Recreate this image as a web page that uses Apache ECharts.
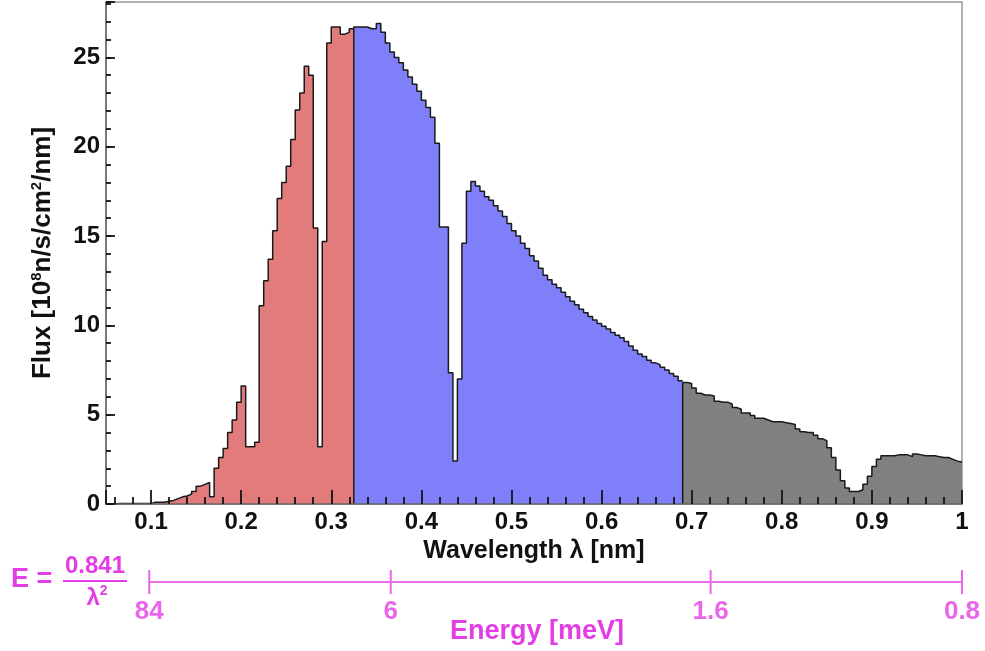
<!DOCTYPE html>
<html lang="en">
<head>
<meta charset="utf-8"/>
<title>Flux vs wavelength</title>
<script src="https://cdn.jsdelivr.net/npm/echarts@6/dist/echarts.min.js"></script>
<style>
    html, body { margin: 0; background: #fff; }
    #chart { width: 985px; height: 651px; }
</style>
</head>
<body>
<div id="chart"></div>
<script>
    // histogram binning (nm)
    const lambdaMin = 0.05;
    const lambdaMax = 1.0;
    const binWidth = 0.005;

    // flux per bin [1e8 n/s/cm2/nm]
    const flux = [
        0, 0, 0.03, 0.03, 0.03, 0.03, 0.03, 0.03, 0.03, 0.03,
        0.1, 0.1, 0.1, 0.15, 0.2, 0.3, 0.4, 0.45, 0.55, 0.7,
        1.0, 1.1, 1.2, 0.4, 2.0, 2.6, 3.1, 4.0, 4.7, 5.7,
        6.6, 3.2, 3.2, 3.45, 11.1, 12.5, 13.7, 15.3, 17.1, 18.0,
        18.9, 20.4, 22.05, 23.0, 24.5, 24.0, 15.45, 3.2, 14.7, 25.8,
        26.7, 26.7, 26.3, 26.4, 26.6,
        26.7, 26.7, 26.7, 26.6, 26.6, 26.9, 26.4, 25.8, 25.3, 25.0,
        24.7, 24.3, 23.9, 23.5, 23.1, 22.6, 22.2, 21.65, 20.2, 15.5,
        15.5, 7.35, 2.4, 7.0, 14.6, 17.5, 18.05, 17.8, 17.5, 17.2,
        17.0, 16.7, 16.4, 16.1, 15.7, 15.3, 15.0, 14.6, 14.3, 13.9,
        13.6, 13.2, 12.8, 12.55, 12.3, 12.1, 11.85, 11.6, 11.35, 11.15,
        10.9, 10.7, 10.5, 10.3, 10.1, 9.95, 9.8, 9.6, 9.45, 9.3,
        9.1, 8.85, 8.6, 8.4, 8.25, 8.05, 7.9, 7.8, 7.65, 7.5,
        7.3, 7.15, 6.9,
        6.8, 6.75, 6.5, 6.2, 6.1, 6.1, 6.05, 5.75, 5.7, 5.7,
        5.6, 5.4, 5.3, 5.1, 5.1, 4.95, 4.8, 4.8, 4.7, 4.6,
        4.6, 4.6, 4.55, 4.5, 4.45, 4.2, 4.05, 4.0, 4.0, 3.85,
        3.65, 3.55, 3.15, 2.6, 1.9, 1.3, 0.9, 0.7, 0.7, 0.8,
        1.1, 1.55, 2.1, 2.5, 2.7, 2.7, 2.7, 2.75, 2.75, 2.75,
        2.65, 2.8, 2.75, 2.7, 2.7, 2.7, 2.65, 2.6, 2.6, 2.5,
        2.4, 2.35
    ];

    // coloured wavelength bands
    const regionStart = [0.05, 0.325, 0.69];
    const regionColor = ['#e27b7b', '#7f7ffa', '#808080'];

    // energy scale E = 0.841 / lambda^2, tick labels and where they sit on the lambda axis
    const energyLabels = ['84', '6', '1.6', '0.8'];
    const energyAt = [0.098, 0.366, 0.721, 1.0];

    const MAGENTA = '#e33ee3';
    const FONT = '"Liberation Sans", Arial, Helvetica, sans-serif';
    const TICK = {color: '#151515', width: 1.8};

    function edge(i) {
        return +(lambdaMin + i * binWidth).toFixed(4);
    }

    function regionData(k) {
        const i0 = Math.round((regionStart[k] - lambdaMin) / binWidth);
        const i1 = k + 1 < regionStart.length
            ? Math.round((regionStart[k + 1] - lambdaMin) / binWidth)
            : flux.length;
        const pts = [[edge(i0), 0]];
        for (let i = i0; i < i1; i++) pts.push([edge(i), flux[i]]);
        pts.push([edge(i1), flux[i1 - 1]]);
        return pts;
    }

    const histSeries = regionStart.map((s, k) => ({
        type: 'line',
        step: 'end',
        xAxisIndex: 0,
        yAxisIndex: 0,
        symbol: 'none',
        data: regionData(k),
        lineStyle: {color: '#1a1a1a', width: 1.5},
        areaStyle: {color: regionColor[k], opacity: 1},
        z: 2
    }));

    const tickLabel = {fontFamily: FONT, fontWeight: 'bold', fontSize: 24, color: '#111'};

    let chart = echarts.init(document.getElementById('chart'), null, {renderer: 'canvas'});
    chart.setOption({
        animation: false,
        backgroundColor: '#fff',
        grid: [
            {left: 106, right: 23, top: 2, bottom: 147, show: true, borderColor: '#999', borderWidth: 1.5,
                containLabel: false, outerBoundsMode: 'none'},
            {left: 106, right: 23, top: 570, height: 24, containLabel: false, outerBoundsMode: 'none'}
        ],
        xAxis: [
            {
                type: 'value', gridIndex: 0, position: 'bottom', min: lambdaMin, max: lambdaMax,
                splitNumber: 10, z: 5,
                axisLine: {lineStyle: {color: '#666', width: 1.5}},
                axisTick: {inside: true, length: 14, lineStyle: TICK},
                minorTick: {show: true, splitNumber: 5, length: 7, lineStyle: TICK},
                axisLabel: Object.assign({
                    margin: 6,
                    formatter: v => Math.abs(v * 10 - Math.round(v * 10)) < 1e-6 ? String(+v.toFixed(1)) : ''
                }, tickLabel),
                splitLine: {show: false},
                name: 'Wavelength \u03bb [nm]', nameLocation: 'middle', nameGap: 32,
                nameTextStyle: {fontFamily: FONT, fontWeight: 'bold', fontSize: 25, color: '#111'}
            },
            {type: 'value', gridIndex: 1, min: lambdaMin, max: lambdaMax, show: false}
        ],
        yAxis: [
            {
                type: 'value', gridIndex: 0, position: 'left', min: 0, max: 28.1, interval: 5, z: 5,
                axisLine: {show: true, lineStyle: {color: '#666', width: 1.5}},
                axisTick: {show: true, inside: true, length: 9, lineStyle: TICK},
                axisLabel: Object.assign({
                    margin: 6,
                    formatter: v => v % 5 === 0 ? String(v) : ''
                }, tickLabel),
                splitLine: {show: false},
                name: '{t|Flux [10}{s|8}{t|n/s/cm}{s|2}{t|/nm]}',
                nameLocation: 'middle', nameGap: 49,
                nameTextStyle: {
                    rich: {
                        t: {fontFamily: FONT, fontWeight: 'bold', fontSize: 26, color: '#111', lineHeight: 28},
                        s: {fontFamily: FONT, fontWeight: 'bold', fontSize: 15, color: '#111', padding: [0, 0, 13, 0]}
                    }
                }
            },
            {   // minor ticks, one per unit
                type: 'value', gridIndex: 0, position: 'left', min: 0, max: 28.1, interval: 1, z: 5,
                axisLine: {show: false},
                axisTick: {show: true, inside: true, length: 5, lineStyle: TICK},
                axisLabel: {show: false},
                splitLine: {show: false}
            },
            {type: 'value', gridIndex: 1, min: -1, max: 1, show: false}
        ],
        series: histSeries.concat([
            {
                type: 'line', xAxisIndex: 1, yAxisIndex: 2, symbol: 'none', silent: true,
                data: [[energyAt[0], 0], [energyAt[energyAt.length - 1], 0]],
                lineStyle: {color: '#ea70ea', width: 2}
            },
            {
                type: 'scatter', xAxisIndex: 1, yAxisIndex: 2, clip: false, silent: true,
                symbol: 'rect', symbolSize: [2, 24],
                itemStyle: {color: MAGENTA},
                data: energyAt.map(p => [p, 0]),
                label: {
                    show: true, position: 'bottom', distance: 5,
                    formatter: p => energyLabels[p.dataIndex],
                    fontFamily: FONT, fontWeight: 'bold', fontSize: 26, color: MAGENTA
                }
            }
        ]),
        graphic: [
            {type: 'text', x: 11, y: 580,
                style: {text: 'E =', fill: MAGENTA, font: 'bold 27px ' + FONT,
                    textAlign: 'left', textVerticalAlign: 'middle', align: 'left', verticalAlign: 'middle'}},
            {type: 'text', x: 95, y: 566,
                style: {text: '0.841', fill: MAGENTA, font: 'bold 24px ' + FONT,
                    textAlign: 'center', textVerticalAlign: 'middle', align: 'center', verticalAlign: 'middle'}},
            {type: 'line', shape: {x1: 63, y1: 581, x2: 127, y2: 581},
                style: {stroke: MAGENTA, lineWidth: 2}},
            {type: 'text', x: 97, y: 598,
                style: {text: '{a|\u03bb}{b|2}', fill: MAGENTA, textAlign: 'center', textVerticalAlign: 'middle',
                    align: 'center', verticalAlign: 'middle',
                    rich: {
                        a: {fontFamily: FONT, fontWeight: 'bold', fontSize: 24, fill: MAGENTA, color: MAGENTA},
                        b: {fontFamily: FONT, fontWeight: 'bold', fontSize: 14, fill: MAGENTA, color: MAGENTA,
                            padding: [0, 0, 13, 0]}
                    }}},
            {type: 'text', x: 537, y: 632,
                style: {text: 'Energy [meV]', fill: MAGENTA, font: 'bold 27px ' + FONT,
                    textAlign: 'center', textVerticalAlign: 'middle', align: 'center', verticalAlign: 'middle'}}
        ]
    });
</script>
</body>
</html>
